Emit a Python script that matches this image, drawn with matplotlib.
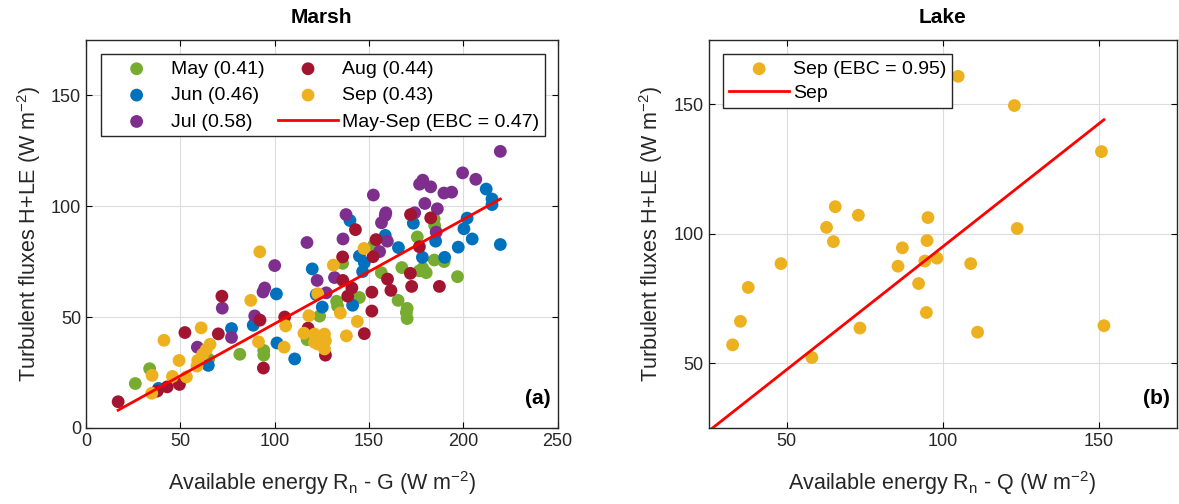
import numpy as np
import matplotlib
matplotlib.use("Agg")
import matplotlib.pyplot as plt

plt.rcParams["font.family"] = ["Liberation Sans", "DejaVu Sans"]
plt.rcParams["mathtext.default"] = "regular"

# Marsh data (available energy, turbulent fluxes) per month
may_x = [26.1, 33.7, 65, 81.5, 94.2, 94.2, 117.2, 123.8, 132.8, 133.3, 144.9, 165.4, 170.2, 169.8,
         170.2, 156.5, 167.4, 176.6, 180.3, 178.5, 184.6, 189.8, 196.9, 175.6, 184.5, 184.8, 136, 152.5]
may_y = [20, 26.7, 31, 33.2, 34.9, 32.8, 39.8, 50.4, 57.1, 54.9, 58.8, 57.5, 53.9, 52,
         49.3, 70, 72.3, 70.8, 70, 72, 75.7, 75, 68.2, 86.1, 94.2, 91.3, 74.2, 82.4]

jun_x = [212.1, 215.2, 215.2, 202, 200.3, 204.7, 219.6, 197.3, 190.1, 185.3, 178.3, 173.5, 165.6, 158.6,
         139.9, 144.9, 147.5, 146.6, 119.9, 122, 125.2, 141.3, 100.9, 77.1, 88.6, 101.2, 110.6, 64.8, 38.4]
jun_y = [107.7, 103.2, 100.7, 94.6, 89.8, 85.2, 82.7, 81.5, 76.9, 84.2, 76.9, 92.3, 81.3, 86.8,
         93.5, 77.5, 74.5, 70.5, 71.7, 60.1, 54.5, 55.3, 60.4, 44.8, 46.3, 38.3, 31.1, 28.2, 17.8]

jul_x = [219.6, 199.6, 206.6, 178.5, 176.8, 182.7, 189.7, 193.8, 152.3, 179.6, 186.2, 174.2, 158.9, 158.6,
         156.6, 137.8, 136.2, 117.1, 159.7, 155.6, 185.6, 100, 122.5, 131.7, 127.3, 94.7, 93.8, 72.2,
         89.4, 77.1, 59]
jul_y = [124.7, 115, 112.1, 111.7, 109.9, 108.7, 105.9, 106.3, 105, 101.2, 98.8, 97, 97, 95.8,
         92.5, 96.2, 85.2, 83.6, 84.2, 79.5, 88.3, 73.2, 66.5, 67.8, 60.9, 63.1, 61.3, 54,
         50.5, 40.8, 36.4]

aug_x = [17, 37.7, 43, 49.5, 52.4, 70.1, 72, 92.2, 94, 105.3, 117.7, 126.9, 147.5, 151.5, 151.5,
         136.1, 140.9, 138.7, 159.8, 161.6, 172.6, 171.9, 187.3, 142.8, 172, 182.7, 153.7, 136, 152.1, 176.7]
aug_y = [11.8, 16.6, 18.5, 19.6, 43, 42.4, 59.4, 48.6, 27, 50, 45, 32.8, 42.5, 52.7, 61.2,
         66.5, 63.1, 59.4, 67.1, 62, 63.8, 69.7, 63.8, 89.4, 96.2, 94.7, 84.9, 77.1, 77.2, 81.7]

sep_x = [92.1, 147.3, 131.1, 87.3, 122.8, 118.1, 134.8, 143.8, 105.8, 61, 41.3, 65.7, 63.7, 61.8,
         59.2, 58.8, 49.3, 53.2, 45.8, 35, 34.8, 91.4, 105, 115.5, 121.1, 126.4, 121.1, 122.9,
         126.4, 126.9, 138]
sep_y = [79.4, 80.9, 73.4, 57.5, 60.5, 50.6, 51.8, 48, 46, 45.1, 39.5, 37.7, 35.3, 33.2,
         30.4, 27.9, 30.4, 23, 23.2, 23.7, 15.6, 38.8, 36.4, 42.7, 42.3, 42.3, 38.6, 37.8,
         35.6, 39.3, 41.5]

months = ["May (0.41)", "Jun (0.46)", "Jul (0.58)", "Aug (0.44)", "Sep (0.43)"]
marsh_ebc = 0.47

# Lake data (September)
lake_x = [105.0, 123.0, 150.9, 65.6, 73.0, 95.3, 62.8, 123.9, 65.0, 95.0, 87.1, 98.2, 94.3,
          48.2, 109.0, 85.7, 37.7, 92.3, 94.8, 35.2, 73.5, 111.2, 151.7, 32.7, 58.1]
lake_y = [160.9, 149.6, 131.8, 110.5, 107.2, 106.3, 102.5, 102.1, 97.0, 97.4, 94.6, 90.6, 89.5,
          88.5, 88.5, 87.5, 79.3, 80.8, 69.6, 66.2, 63.6, 62.0, 64.5, 57.1, 52.2]
lake_ebc = 0.95

colors = ["#77AC30", "#0072BD", "#7E2F8E", "#A2142F", "#EDB120"]

fig = plt.figure(figsize=(11.79, 5.04), dpi=100)
ax1 = fig.add_axes([0.073, 0.151, 0.400, 0.770])
ax2 = fig.add_axes([0.601, 0.151, 0.397, 0.770])

leg_kw = dict(fontsize=14, frameon=True, fancybox=False, edgecolor="#262626",
              framealpha=1, handlelength=3.1, handletextpad=0.2, borderpad=0.3,
              borderaxespad=0.75)

# ---- Marsh ----
all_x = []
for xs, ys, lab, c in zip([may_x, jun_x, jul_x, aug_x, sep_x],
                          [may_y, jun_y, jul_y, aug_y, sep_y], months, colors):
    ax1.scatter(xs, ys, s=85, color=c, edgecolors="none", label=lab, zorder=3)
    all_x += xs
lx = np.array([min(all_x), max(all_x)])
ax1.plot(lx, marsh_ebc * lx, color="red", lw=2, label=f"May-Sep (EBC = {marsh_ebc:.2f})", zorder=4)

ax1.set_xlim(0, 250)
ax1.set_ylim(0, 175)
ax1.set_xticks([0, 50, 100, 150, 200, 250])
ax1.set_yticks([0, 50, 100, 150])
ax1.set_title("Marsh", fontsize=15, fontweight="bold", pad=12)
ax1.set_xlabel("Available energy R$_n$ - G (W m$^{-2}$)", fontsize=15.5, color="#262626", labelpad=14)
ax1.set_ylabel("Turbulent fluxes H+LE (W m$^{-2}$)", fontsize=15.5, color="#262626", labelpad=6)
ax1.legend(loc="upper left", ncol=2, columnspacing=0.7, labelspacing=0.45, **leg_kw)
ax1.text(0.985, 0.05, "(a)", transform=ax1.transAxes, ha="right", va="bottom",
         fontsize=15, fontweight="bold")

# ---- Lake ----
ax2.scatter(lake_x, lake_y, s=85, color=colors[4], edgecolors="none",
            label=f"Sep (EBC = {lake_ebc:.2f})", zorder=3)
lx2 = np.array([min(lake_x) - 7, max(lake_x)])
ax2.plot(lx2, lake_ebc * lx2, color="red", lw=2, label="Sep", zorder=4)
ax2.set_xlim(25, 175)
ax2.set_ylim(25, 175)
ax2.set_xticks([50, 100, 150])
ax2.set_yticks([50, 100, 150])
ax2.set_title("Lake", fontsize=15, fontweight="bold", pad=12)
ax2.set_xlabel("Available energy R$_n$ - Q (W m$^{-2}$)", fontsize=15.5, color="#262626", labelpad=14)
ax2.set_ylabel("Turbulent fluxes H+LE (W m$^{-2}$)", fontsize=15.5, color="#262626", labelpad=6)
ax2.legend(loc="upper left", labelspacing=0.35, **leg_kw)
ax2.text(0.985, 0.05, "(b)", transform=ax2.transAxes, ha="right", va="bottom",
         fontsize=15, fontweight="bold")

for ax in (ax1, ax2):
    ax.grid(True, color="#dcdcdc", lw=0.8)
    ax.set_axisbelow(True)
    ax.tick_params(direction="in", labelsize=13, labelcolor="#262626", length=4,
                   top=True, right=True)
    for sp in ax.spines.values():
        sp.set_color("#262626")
        sp.set_linewidth(1)

fig.savefig("out.png", dpi=100)
